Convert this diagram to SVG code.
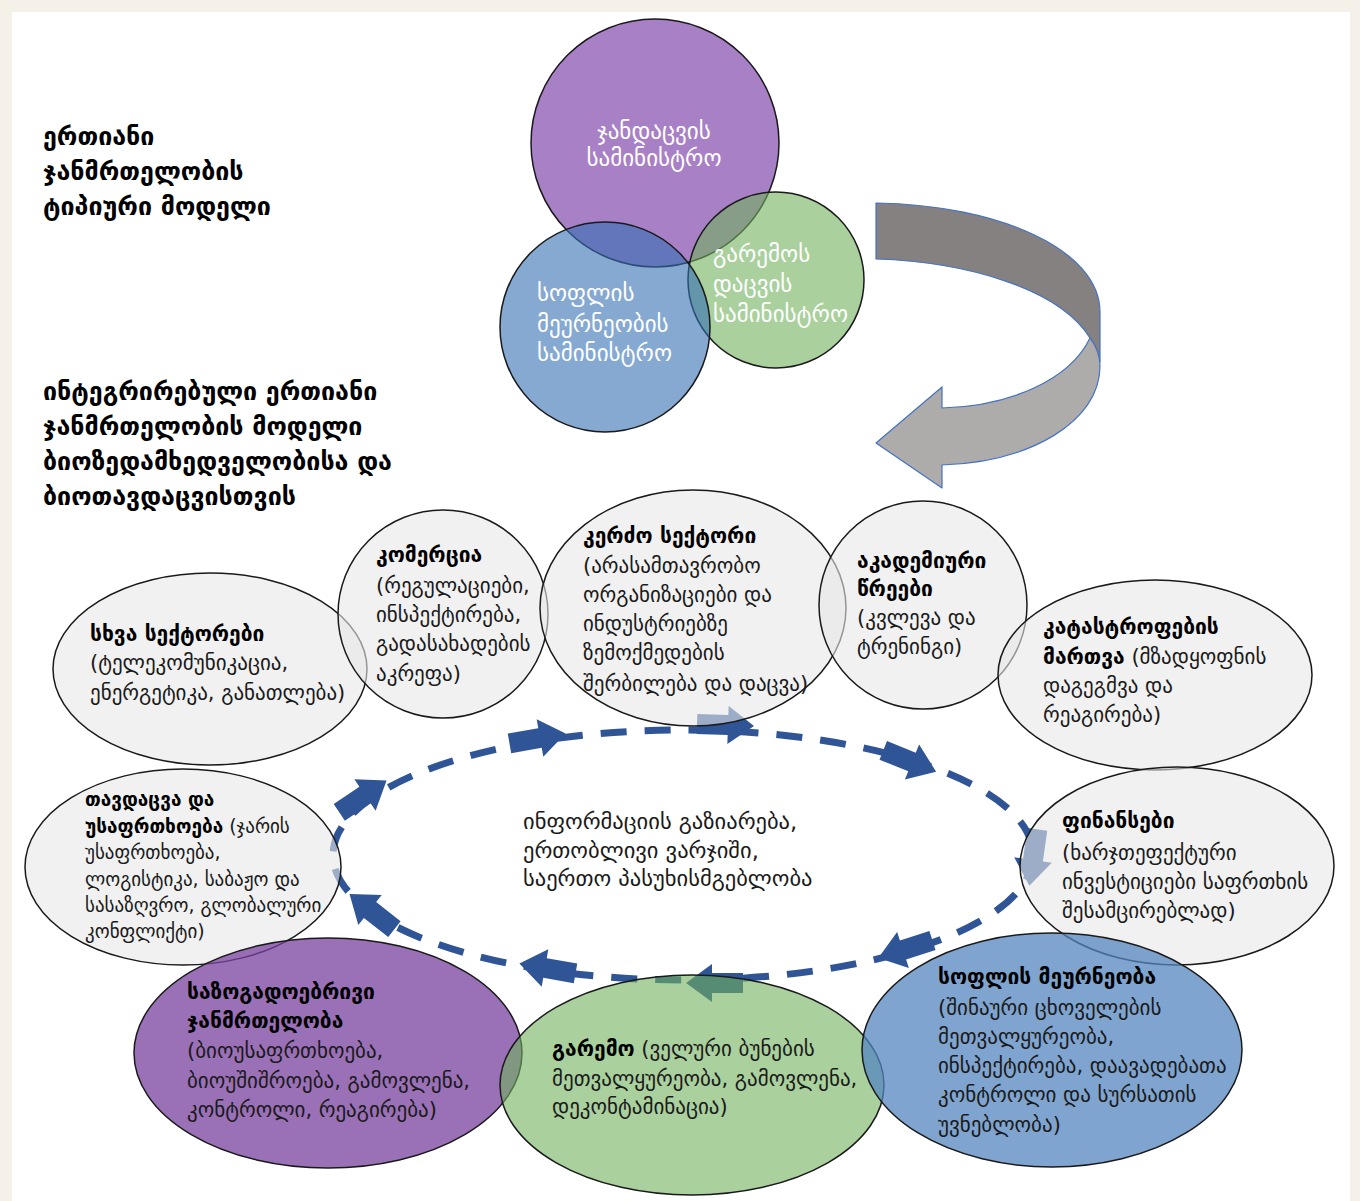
<svg xmlns="http://www.w3.org/2000/svg" xmlns:xlink="http://www.w3.org/1999/xlink" width="1360" height="1201" viewBox="0 0 1360 1201">
<style>
text{font-family:"DejaVu Sans",sans-serif;fill:#1a1a1a}
.t{font-size:25px;font-weight:bold;fill:#000}
.v{font-size:23px;fill:#fff}
.b{font-size:21px}
.c{font-size:22.5px}
.s{font-size:19px}
.h{font-weight:bold;fill:#000}
.ov{fill:#e8e8e8;fill-opacity:0.6;stroke:#1a1a1a;stroke-width:1.5}
.blk{fill:#2f5597}
</style>
<defs>
<path id="blk" d="M-31,-10 L0,-10 L0,-19 L26,0 L0,19 L0,10 L-31,10 Z"/>
</defs>
<rect x="0" y="0" width="1360" height="1201" fill="#f5f0e8"/>
<rect x="12" y="12" width="1338" height="1189" fill="#ffffff"/>

<g id="title1">
<text class="t"><tspan x="43" y="145">ერთიანი</tspan><tspan x="43" y="180">ჯანმრთელობის</tspan><tspan x="43" y="215">ტიპიური მოდელი</tspan></text>
</g>
<g id="title2">
<text class="t"><tspan x="43" y="400">ინტეგრირებული ერთიანი</tspan><tspan x="43" y="435">ჯანმრთელობის მოდელი</tspan><tspan x="43" y="470">ბიოზედამხედველობისა და</tspan><tspan x="43" y="505">ბიოთავდაცვისთვის</tspan></text>
</g>

<g id="venn-health">
<circle cx="655" cy="143" r="124" fill="#a880c6" stroke="#1a1a1a" stroke-width="1.5"/>
</g>
<g id="venn-env">
<circle cx="776" cy="280" r="88" fill="#71b05e" fill-opacity="0.6" stroke="#1a1a1a" stroke-width="1.5"/>
</g>
<g id="venn-agri">
<circle cx="605" cy="327" r="105" fill="#3570b4" fill-opacity="0.6" stroke="#1a1a1a" stroke-width="1.5"/>
</g>
<g id="venn-text">
<text class="v" text-anchor="middle"><tspan x="654" y="139">ჯანდაცვის</tspan><tspan x="654" y="166">სამინისტრო</tspan></text>
<text class="v"><tspan x="537" y="301">სოფლის</tspan><tspan x="537" y="332">მეურნეობის</tspan><tspan x="537" y="361">სამინისტრო</tspan></text>
<text class="v"><tspan x="713" y="262">გარემოს</tspan><tspan x="713" y="292">დაცვის</tspan><tspan x="713" y="322">სამინისტრო</tspan></text>
</g>

<g id="curved-arrow" stroke="#4472c4" stroke-width="1.2" stroke-linejoin="round">
<path d="M876,203 C1000,205 1100,250 1100,312 L1100,362 C1098,352 1095,344 1090,338 C1060,290 970,262 876,259 Z" fill="#858181"/>
<path d="M1090,338 C1096,346 1100,356 1100,366 C1100,422 1030,462 942,465 L942,488 L876,443 L942,387 L942,408 C1010,406 1070,380 1090,338 Z" fill="#aeabab"/>
</g>

<g id="connectors">
<ellipse cx="683" cy="855" rx="350" ry="125" fill="none" stroke="#2f5597" stroke-width="7" stroke-dasharray="26 18"/>
<use href="#blk" class="blk" transform="translate(365,795) rotate(-34)"/>
<use href="#blk" class="blk" transform="translate(540,738) rotate(-10)"/>
<use href="#blk" class="blk" transform="translate(728,725) rotate(2)"/>
<use href="#blk" class="blk" transform="translate(912,762) rotate(22)"/>
<use href="#blk" class="blk" transform="translate(1033,860) rotate(98)"/>
<use href="#blk" class="blk" transform="translate(903,950) rotate(162)"/>
<use href="#blk" class="blk" transform="translate(712,983) rotate(180)"/>
<use href="#blk" class="blk" transform="translate(545,968) rotate(190)"/>
<use href="#blk" class="blk" transform="translate(370,910) rotate(218)"/>
</g>

<g id="other-sectors">
<ellipse class="ov" cx="210" cy="669" rx="157" ry="96"/>
<text class="b"><tspan x="90" y="641" class="h">სხვა სექტორები</tspan><tspan x="90" y="670">(ტელეკომუნიკაცია,</tspan><tspan x="90" y="700">ენერგეტიკა, განათლება)</tspan></text>
</g>
<g id="commerce">
<ellipse class="ov" cx="443" cy="614" rx="105" ry="104"/>
<text class="b"><tspan x="376" y="562" class="h">კომერცია</tspan><tspan x="376" y="593">(რეგულაციები,</tspan><tspan x="376" y="622">ინსპექტირება,</tspan><tspan x="376" y="651">გადასახადების</tspan><tspan x="376" y="681">აკრეფა)</tspan></text>
</g>
<g id="private-sector">
<ellipse class="ov" cx="693" cy="608" rx="153" ry="118"/>
<text class="b"><tspan x="583" y="543" class="h">კერძო სექტორი</tspan><tspan x="583" y="573">(არასამთავრობო</tspan><tspan x="583" y="602">ორგანიზაციები და</tspan><tspan x="583" y="631">ინდუსტრიებზე</tspan><tspan x="583" y="660">ზემოქმედების</tspan><tspan x="583" y="691">შერბილება და დაცვა)</tspan></text>
</g>
<g id="academia">
<ellipse class="ov" cx="923" cy="605" rx="104" ry="104"/>
<text class="b"><tspan x="857" y="568" class="h">აკადემიური</tspan><tspan x="857" y="596" class="h">წრეები</tspan><tspan x="857" y="625">(კვლევა და</tspan><tspan x="857" y="654">ტრენინგი)</tspan></text>
</g>
<g id="disaster">
<ellipse class="ov" cx="1155" cy="675" rx="157" ry="95"/>
<text class="b"><tspan x="1043" y="634" class="h">კატასტროფების</tspan><tspan x="1043" y="664" class="h">მართვა</tspan><tspan> (მზადყოფნის</tspan><tspan x="1043" y="693">დაგეგმვა და</tspan><tspan x="1043" y="722">რეაგირება)</tspan></text>
</g>
<g id="finance">
<ellipse class="ov" cx="1177" cy="866" rx="157" ry="99"/>
<text class="b"><tspan x="1062" y="828" class="h">ფინანსები</tspan><tspan x="1062" y="860">(ხარჯთეფექტური</tspan><tspan x="1062" y="889">ინვესტიციები საფრთხის</tspan><tspan x="1062" y="918">შესამცირებლად)</tspan></text>
</g>
<g id="defense">
<ellipse class="ov" cx="183" cy="867" rx="158" ry="98"/>
<text class="s"><tspan x="85" y="806" class="h">თავდაცვა და</tspan><tspan x="85" y="833" class="h">უსაფრთხოება</tspan><tspan> (ჯარის</tspan><tspan x="85" y="859">უსაფრთხოება,</tspan><tspan x="85" y="886">ლოგისტიკა, საბაჟო და</tspan><tspan x="85" y="912">სასაზღვრო, გლობალური</tspan><tspan x="85" y="938">კონფლიქტი)</tspan></text>
</g>
<g id="public-health">
<ellipse cx="328" cy="1053" rx="194" ry="115" fill="#78409f" fill-opacity="0.75" stroke="#1a1a1a" stroke-width="1.5"/>
<text class="b"><tspan x="187" y="999" class="h">საზოგადოებრივი</tspan><tspan x="187" y="1028" class="h">ჯანმრთელობა</tspan><tspan x="187" y="1058">(ბიოუსაფრთხოება,</tspan><tspan x="187" y="1088">ბიოუშიშროება, გამოვლენა,</tspan><tspan x="187" y="1117">კონტროლი, რეაგირება)</tspan></text>
</g>
<g id="environment">
<ellipse cx="692" cy="1085" rx="192" ry="110" fill="#71b05e" fill-opacity="0.6" stroke="#1a1a1a" stroke-width="1.5"/>
<text class="b"><tspan x="552" y="1056" class="h">გარემო</tspan><tspan> (ველური ბუნების</tspan><tspan x="552" y="1086">მეთვალყურეობა, გამოვლენა,</tspan><tspan x="552" y="1114">დეკონტამინაცია)</tspan></text>
</g>
<g id="agriculture">
<ellipse cx="1052" cy="1050" rx="190" ry="117" fill="#5485bf" fill-opacity="0.75" stroke="#1a1a1a" stroke-width="1.5"/>
<text class="b"><tspan x="938" y="984" class="h">სოფლის მეურნეობა</tspan><tspan x="938" y="1015">(შინაური ცხოველების</tspan><tspan x="938" y="1044">მეთვალყურეობა,</tspan><tspan x="938" y="1073">ინსპექტირება, დაავადებათა</tspan><tspan x="938" y="1102">კონტროლი და სურსათის</tspan><tspan x="938" y="1132">უვნებლობა)</tspan></text>
</g>
<g id="center-text">
<text class="c"><tspan x="523" y="829">ინფორმაციის გაზიარება,</tspan><tspan x="523" y="858">ერთობლივი ვარჯიში,</tspan><tspan x="523" y="886">საერთო პასუხისმგებლობა</tspan></text>
</g>
</svg>
